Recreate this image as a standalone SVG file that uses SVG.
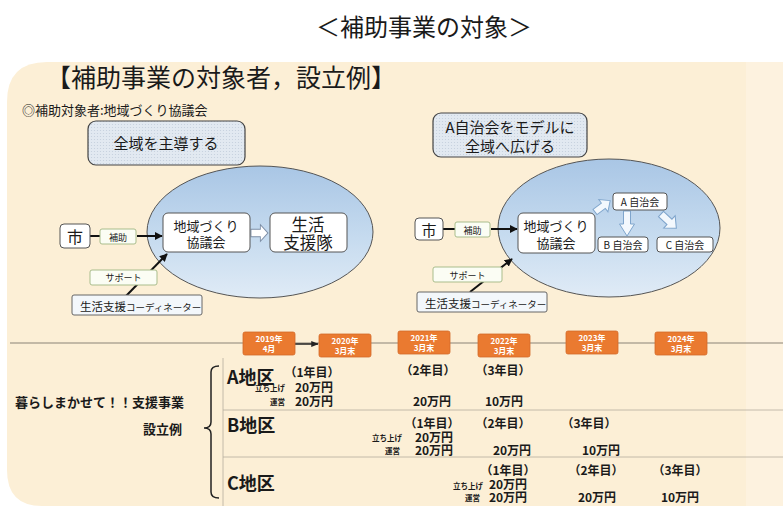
<svg xmlns="http://www.w3.org/2000/svg" xmlns:xlink="http://www.w3.org/1999/xlink" width="783" height="506" viewBox="0 0 783 506">
<defs>
<style>
text{font-family:'Noto Sans CJK JP','Noto Sans CJK SC',sans-serif;fill:#1a1a1a}
.b{font-weight:700}
.box{fill:#fff;stroke:#555;stroke-width:1}
.lbl{fill:#fbfdf4;stroke:#a9bd8c;stroke-width:1}
.coord{fill:#f3f7fb;stroke:#666;stroke-width:1}
.head{fill:url(#dots);stroke:#444;stroke-width:1.2}
.ell{fill:url(#eg);stroke:#555;stroke-width:1}
.orng{fill:#ea7a30;stroke:#d3692a;stroke-width:0.8}
.otx{fill:#fff;font-size:8px;font-weight:700}
.blk{stroke:#111;stroke-width:2;fill:none}
.harL{fill:#fff;stroke:#7d8ea6;stroke-width:1}
.harR{fill:#f3f8fd;stroke:#7fa5cc;stroke-width:1}
.sep{stroke:#b5ada0;stroke-width:0.8}
.tiny{font-size:7.5px;font-weight:700}
.m{font-size:12px;font-weight:700;text-anchor:middle}
</style>
<pattern id="dots" width="3" height="3" patternUnits="userSpaceOnUse">
<rect width="3" height="3" fill="#e2e9f1"/>
<circle cx="1.5" cy="1.5" r="0.6" fill="#c4cfdc"/>
</pattern>
<linearGradient id="eg" x1="0" y1="0" x2="0" y2="1">
<stop offset="0" stop-color="#a9c6e5"/>
<stop offset="0.55" stop-color="#c6dbef"/>
<stop offset="1" stop-color="#e0ebf6"/>
</linearGradient>
<marker id="ah" viewBox="0 0 10 10" refX="9" refY="5" markerWidth="4" markerHeight="4" orient="auto">
<path d="M0,0 L10,5 L0,10 Z" fill="#111"/>
</marker>
<marker id="ahs" viewBox="0 0 10 10" refX="9" refY="5" markerWidth="5" markerHeight="5" orient="auto">
<path d="M0,1 L10,5 L0,9 Z" fill="#222"/>
</marker>
<path id="ha" d="M0,-3.5 L11,-3.5 L11,-8 L20,0 L11,8 L11,3.5 L0,3.5 Z"/>
</defs>

<rect width="783" height="506" fill="#fff"/>
<text x="424" y="36" font-size="24" text-anchor="middle">＜補助事業の対象＞</text>

<g id="panel">
<path d="M7,102 Q7,62 47,62 L783,62 L783,506 L42,506 Q7,506 7,470 Z" fill="#fcefd6"/>
<rect x="746" y="62" width="37" height="444" fill="#fdf2df"/>
</g>

<text x="46" y="87" font-size="25">【補助事業の対象者，設立例】</text>
<text x="22" y="115" font-size="13">◎補助対象者:地域づくり協議会</text>

<g id="left-head"><rect class="head" x="88" y="121" width="157" height="44" rx="8"/>
<text x="166" y="149" font-size="15" text-anchor="middle">全域を主導する</text></g>
<g id="left-ellipse"><ellipse class="ell" cx="260" cy="232" rx="113" ry="66"/></g>
<g id="right-head"><rect class="head" x="433" y="113" width="154" height="44" rx="8"/>
<text x="510" y="133" font-size="15" text-anchor="middle">A自治会をモデルに</text>
<text x="510" y="152" font-size="15" text-anchor="middle">全域へ広げる</text></g>
<g id="right-ellipse"><ellipse class="ell" cx="609" cy="228" rx="111" ry="69"/></g>

<g id="connectors">
<line class="blk" x1="90" y1="236" x2="100" y2="236" stroke-width="2.5"/>
<line class="blk" x1="137" y1="236" x2="162" y2="236" marker-end="url(#ah)"/>
<line class="blk" x1="126" y1="296" x2="167" y2="254" marker-end="url(#ah)"/>
<line class="blk" x1="443" y1="229" x2="455" y2="229" stroke-width="2.5"/>
<line class="blk" x1="491" y1="229" x2="517" y2="229" marker-end="url(#ah)"/>
<line class="blk" x1="470" y1="292" x2="512" y2="259" marker-end="url(#ah)"/>
<use href="#ha" class="harL" transform="translate(251,233) scale(0.85,1.05)"/>
<use href="#ha" class="harR" transform="translate(595,212) rotate(-37) scale(0.95)"/>
<path class="harR" d="M623.5,211 L630.5,211 L630.5,224 L634.5,224 L627,236 L619.5,224 L623.5,224 Z"/>
<use href="#ha" class="harR" transform="translate(661,214) rotate(43) scale(1.05)"/>
<line x1="10" y1="343" x2="783" y2="343" stroke="#8a8377" stroke-width="1"/>
<line x1="295" y1="344" x2="318" y2="344" stroke="#222" stroke-width="1.5" marker-end="url(#ahs)"/>
</g>

<g id="city-L"><rect class="box" x="60" y="224" width="30" height="24" rx="4"/>
<text x="75" y="243" font-size="16" text-anchor="middle">市</text></g>
<g id="hojo-L"><rect class="lbl" x="100" y="229" width="36" height="15" rx="2"/>
<text x="118" y="241" font-size="9" text-anchor="middle">補助</text></g>
<g id="kyogikai-L"><rect class="box" x="163" y="213" width="87" height="39" rx="5"/>
<text x="206" y="231" font-size="13" text-anchor="middle">地域づくり</text>
<text x="206" y="247" font-size="13" text-anchor="middle">協議会</text></g>
<g id="shientai"><rect class="box" x="270" y="213" width="77" height="39" rx="5"/>
<text x="308" y="231" font-size="16.5" text-anchor="middle">生活</text>
<text x="308" y="249" font-size="16.5" text-anchor="middle">支援隊</text></g>
<g id="support-L"><rect class="lbl" x="90" y="270" width="67" height="15" rx="2"/>
<text x="123.5" y="281" font-size="9" text-anchor="middle">サポート</text></g>
<g id="coord-L"><rect class="coord" x="72" y="295" width="130" height="20" rx="2"/>
<text x="80" y="311" font-size="11.5">生活支援<tspan font-size="9.5">コーディネーター</tspan></text></g>

<g id="city-R"><rect class="box" x="415" y="218" width="28" height="22" rx="4"/>
<text x="429" y="236" font-size="15" text-anchor="middle">市</text></g>
<g id="hojo-R"><rect class="lbl" x="455" y="222" width="35" height="15" rx="2"/>
<text x="472.5" y="233.5" font-size="9" text-anchor="middle">補助</text></g>
<g id="kyogikai-R"><rect class="box" x="518" y="213" width="77" height="40" rx="5"/>
<text x="556" y="231" font-size="13" text-anchor="middle">地域づくり</text>
<text x="556" y="248" font-size="13" text-anchor="middle">協議会</text></g>
<g id="jichikai-A"><rect class="box" x="613" y="193" width="54" height="17" rx="3"/>
<text x="640" y="205.5" font-size="10" text-anchor="middle">A 自治会</text></g>
<g id="jichikai-B"><rect class="box" x="598" y="237" width="50" height="15" rx="3"/>
<text x="623" y="248.5" font-size="10" text-anchor="middle">B 自治会</text></g>
<g id="jichikai-C"><rect class="box" x="657" y="237" width="56" height="15" rx="3"/>
<text x="685" y="248.5" font-size="10" text-anchor="middle">C 自治会</text></g>
<g id="support-R"><rect class="lbl" x="433" y="267" width="69" height="15" rx="2"/>
<text x="467.5" y="278.5" font-size="9" text-anchor="middle">サポート</text></g>
<g id="coord-R"><rect class="coord" x="417" y="292" width="130" height="20" rx="2"/>
<text x="425" y="308" font-size="11.5">生活支援<tspan font-size="9.5">コーディネーター</tspan></text></g>

<g id="t2019"><rect class="orng" x="243" y="332" width="52" height="23" rx="2"/>
<text class="otx" x="269" y="342" text-anchor="middle">2019年</text><text class="otx" x="269" y="352" text-anchor="middle">4月</text></g>
<g id="t2020"><rect class="orng" x="319" y="334" width="52" height="23" rx="2"/>
<text class="otx" x="345" y="344" text-anchor="middle">2020年</text><text class="otx" x="345" y="354" text-anchor="middle">3月末</text></g>
<g id="t2021"><rect class="orng" x="398" y="331" width="52" height="23" rx="2"/>
<text class="otx" x="424" y="341" text-anchor="middle">2021年</text><text class="otx" x="424" y="351" text-anchor="middle">3月末</text></g>
<g id="t2022"><rect class="orng" x="478" y="334" width="52" height="23" rx="2"/>
<text class="otx" x="504" y="344" text-anchor="middle">2022年</text><text class="otx" x="504" y="354" text-anchor="middle">3月末</text></g>
<g id="t2023"><rect class="orng" x="566" y="331" width="52" height="23" rx="2"/>
<text class="otx" x="592" y="341" text-anchor="middle">2023年</text><text class="otx" x="592" y="351" text-anchor="middle">3月末</text></g>
<g id="t2024"><rect class="orng" x="655" y="332" width="52" height="23" rx="2"/>
<text class="otx" x="681" y="342" text-anchor="middle">2024年</text><text class="otx" x="681" y="352" text-anchor="middle">3月末</text></g>

<g id="table-lines">
<line class="sep" x1="223" y1="358" x2="223" y2="506"/>
<line class="sep" x1="223" y1="410" x2="783" y2="410"/>
<line class="sep" x1="223" y1="457" x2="783" y2="457"/>
<path d="M219,366 Q211,366 211,372 L211,422 Q211,428 204,428 Q211,428 211,434 L211,492 Q211,498 219,498" fill="none" stroke="#222" stroke-width="1.5"/>
</g>
<text class="b" x="15" y="407" font-size="13">暮らしまかせて！！支援事業</text>
<text class="b" x="143" y="434" font-size="13">設立例</text>

<g id="rowA">
<text class="b" x="227" y="384" font-size="18">A地区</text>
<text class="m" x="312" y="377">（1年目）</text>
<text class="m" x="428" y="375">（2年目）</text>
<text class="m" x="503" y="375">（3年目）</text>
<text class="tiny" x="285" y="391" text-anchor="end">立ち上げ</text>
<text class="m" x="314" y="392">20万円</text>
<text class="tiny" x="285" y="405" text-anchor="end">運営</text>
<text class="m" x="314" y="406">20万円</text>
<text class="m" x="432" y="406">20万円</text>
<text class="m" x="504" y="406">10万円</text>
</g>
<g id="rowB">
<text class="b" x="227" y="432" font-size="18">B地区</text>
<text class="m" x="432" y="428">（1年目）</text>
<text class="m" x="503" y="428">（2年目）</text>
<text class="m" x="589" y="428">（3年目）</text>
<text class="tiny" x="402" y="441" text-anchor="end">立ち上げ</text>
<text class="m" x="434" y="442">20万円</text>
<text class="tiny" x="400" y="454" text-anchor="end">運営</text>
<text class="m" x="434" y="455">20万円</text>
<text class="m" x="512" y="455">20万円</text>
<text class="m" x="601" y="455">10万円</text>
</g>
<g id="rowC">
<text class="b" x="227" y="490" font-size="18">C地区</text>
<text class="m" x="508" y="475">（1年目）</text>
<text class="m" x="596" y="475">（2年目）</text>
<text class="m" x="680" y="475">（3年目）</text>
<text class="tiny" x="483" y="489" text-anchor="end">立ち上げ</text>
<text class="m" x="508" y="489">20万円</text>
<text class="tiny" x="480" y="501" text-anchor="end">運営</text>
<text class="m" x="508" y="502">20万円</text>
<text class="m" x="597" y="502">20万円</text>
<text class="m" x="680" y="502">10万円</text>
</g>
</svg>
